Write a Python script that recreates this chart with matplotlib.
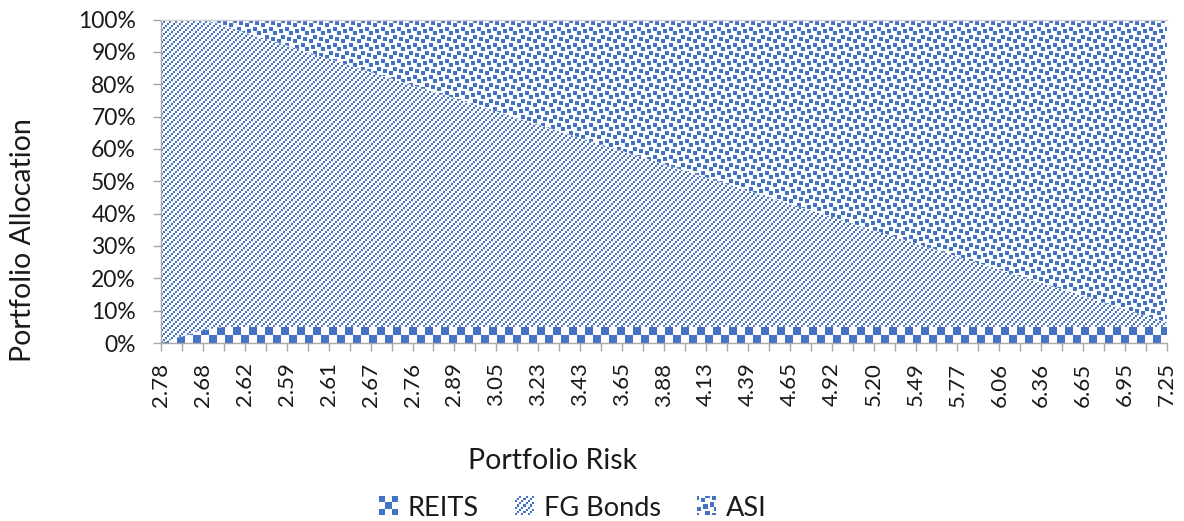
import numpy as np
import matplotlib
matplotlib.use("Agg")
import matplotlib.pyplot as plt
from matplotlib.legend_handler import HandlerBase
from matplotlib.image import BboxImage
from matplotlib.transforms import Bbox, TransformedBbox
from matplotlib.patches import Patch

plt.rcParams['font.family'] = ['Lato', 'DejaVu Sans']

# ---------------- data ----------------
risk_labels = ['2.78', '2.68', '2.62', '2.59', '2.61', '2.67', '2.76', '2.89', '3.05',
               '3.23', '3.43', '3.65', '3.88', '4.13', '4.39', '4.65', '4.92', '5.20',
               '5.49', '5.77', '6.06', '6.36', '6.65', '6.95', '7.25']

series_names = ['REITS', 'FG Bonds', 'ASI']

reits = [0, 2, 4, 5, 5, 5, 5, 5, 5, 5, 5, 5, 5, 5, 5, 5, 5, 5, 5, 5, 5, 5, 5, 5, 5,
         5, 5, 5, 5, 5, 5, 5, 5, 5, 5, 5, 5, 5, 5, 5, 5, 5, 5, 5, 5, 5, 5, 5, 5]

fg_bonds = [100, 98, 96, 93.1, 91.0, 89.0, 87.0, 84.9, 82.9, 80.8, 78.8, 76.8, 74.7,
            72.7, 70.7, 68.6, 66.6, 64.5, 62.5, 60.5, 58.4, 56.4, 54.4, 52.3, 50.3,
            48.2, 46.2, 44.2, 42.1, 40.1, 38.0, 36.0, 34.0, 31.9, 29.9, 27.9, 25.8,
            23.8, 21.7, 19.7, 17.7, 15.6, 13.6, 11.6, 9.5, 7.5, 5.4, 3.4, 1.4]

asi = [0, 0, 0, 1.9, 4.0, 6.0, 8.0, 10.1, 12.1, 14.2, 16.2, 18.2, 20.3, 22.3, 24.3,
       26.4, 28.4, 30.5, 32.5, 34.5, 36.6, 38.6, 40.6, 42.7, 44.7, 46.8, 48.8, 50.8,
       52.9, 54.9, 57.0, 59.0, 61.0, 63.1, 65.1, 67.1, 69.2, 71.2, 73.3, 75.3, 77.3,
       79.4, 81.4, 83.4, 85.5, 87.5, 89.6, 91.6, 93.6]

yticks = [0, 10, 20, 30, 40, 50, 60, 70, 80, 90, 100]

# ---------------- styling ----------------
BLUE = np.array([68, 114, 196]) / 255.0
AXIS_GREY = '#A6A6A6'
TEXT = '#1a1a1a'

CONFETTI_BITS = [0x8d, 0x0c, 0xc0, 0xd8, 0x1b, 0x03, 0x30, 0xb1]


def pattern(kind, h, w, scale=2, sq=8):
    rb = (h - 1 - np.arange(h))[:, None]   # rows counted from bottom
    c = np.arange(w)[None, :]
    if kind == 'checker':
        mask = ((rb // sq + c // sq) % 2) == 0
    elif kind == 'diag':
        mask = ((c // scale - rb // scale) % 3) == 0
    else:
        bits = np.array([[(b >> (7 - k)) & 1 for k in range(8)] for b in CONFETTI_BITS], bool)
        mask = bits[(rb // scale) % 8, (c // scale) % 8]
    img = np.ones((h, w, 4))
    img[mask, :3] = BLUE
    return img


kinds = ['checker', 'diag', 'confetti']

fig = plt.figure(figsize=(11.84, 5.21), dpi=100)
L, R, T, B = 161, 1167, 19.5, 343
ax = fig.add_axes([L / 1184, 1 - B / 521, (R - L) / 1184, (B - T) / 521])

n = len(reits)
x = np.arange(n)
r_arr = np.array(reits, float)
f_arr = np.array(fg_bonds, float)
a_arr = np.array(asi, float)
tot = r_arr + f_arr + a_arr
r_arr, f_arr, a_arr = r_arr / tot * 100, f_arr / tot * 100, a_arr / tot * 100

lowers = [np.zeros(n), r_arr, r_arr + f_arr]
uppers = [r_arr, r_arr + f_arr, r_arr + f_arr + a_arr]

W = int(round(R - L))
H = int(round(B - T))
for lo, up, kind in zip(lowers, uppers, kinds):
    poly = ax.fill_between(x, lo, up, facecolor='none', edgecolor='none', linewidth=0)
    im = ax.imshow(pattern(kind, H, W), extent=[0, n - 1, 0, 100], aspect='auto',
                   interpolation='nearest', origin='upper', zorder=1)
    im.set_clip_path(poly.get_paths()[0], ax.transData)

ax.set_xlim(0, n - 1)
ax.set_ylim(0, 100)

ax.set_xticks(np.arange(0, n, 2))
ax.set_xticklabels(risk_labels, rotation=90, fontsize=16, color=TEXT)
ax.set_xticks(np.arange(n), minor=True)
ax.set_yticks(yticks)
ax.set_yticklabels([f'{v}%' for v in yticks], fontsize=16.5, color=TEXT)

ax.tick_params(axis='x', which='both', length=6, width=1, color=AXIS_GREY, pad=8)
ax.tick_params(axis='y', which='major', length=6, width=1, color=AXIS_GREY, pad=12)

ax.spines['right'].set_visible(False)
ax.spines['top'].set_color('#D0D0D0')
ax.spines['left'].set_color(AXIS_GREY)
ax.spines['bottom'].set_color(AXIS_GREY)
for s in ax.spines.values():
    s.set_linewidth(1)
    s.set_zorder(3)

fig.text(23 / 1184, 1 - 240 / 521, 'Portfolio Allocation', rotation=90,
         ha='center', va='center', fontsize=20.5, color=TEXT)
fig.text(553 / 1184, 1 - 461 / 521, 'Portfolio Risk', ha='center', va='center',
         fontsize=20.5, color=TEXT)


class PatternHandler(HandlerBase):
    def __init__(self, kind):
        super().__init__()
        self.kind = kind

    def create_artists(self, legend, orig_handle, xdescent, ydescent, width, height,
                       fontsize, trans):
        bb = Bbox.from_bounds(-xdescent, -ydescent, width, height)
        tbb = TransformedBbox(bb, trans)
        im = BboxImage(tbb, interpolation='nearest')
        if self.kind == 'checker':
            data = pattern('checker', 18, 18, sq=6)
        else:
            data = pattern(self.kind, 18, 18, scale=2)
        im.set_data(data)
        return [im]


handles = [Patch(label=nm) for nm in series_names]
hmap = {h: PatternHandler(k) for h, k in zip(handles, kinds)}
fig.legend(handles=handles, handler_map=hmap, ncol=3, loc='center',
           bbox_to_anchor=(573 / 1184, 1 - 508 / 521), bbox_transform=fig.transFigure,
           frameon=False, fontsize=19.5, handlelength=0.7, handleheight=0.7,
           handletextpad=0.35, columnspacing=1.35, labelcolor=TEXT)

fig.savefig('out.png', dpi=100)
